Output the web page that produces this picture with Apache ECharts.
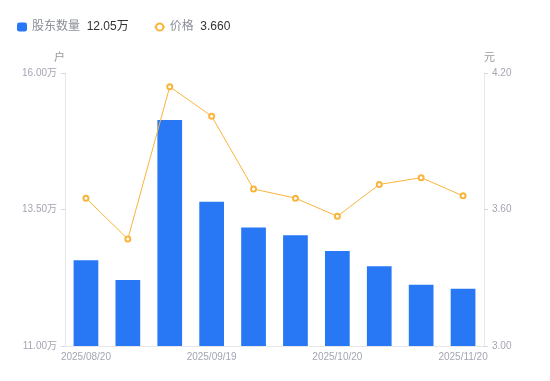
<!DOCTYPE html>
<html>
    <head>
        <meta charset="utf-8">
        <script src="https://cdn.jsdelivr.net/npm/echarts@6/dist/echarts.min.js"></script>
        <style>
            html, body { margin: 0; padding: 0; background: #fff; }
            #main { width: 550px; height: 381px; }
        </style>
    </head>
    <body>
        <div id="main"></div>
        <script>
            // report dates
            const dates = [
                '2025/08/20', '2025/08/31', '2025/09/10', '2025/09/19', '2025/09/30',
                '2025/10/10', '2025/10/20', '2025/10/31', '2025/11/10', '2025/11/20'
            ];
            // shareholder count, in 万 households
            const holders = [12.57, 12.21, 15.14, 13.64, 13.17, 13.03, 12.74, 12.46, 12.12, 12.05];
            // share price, yuan
            const prices = [3.65, 3.47, 4.14, 4.01, 3.69, 3.65, 3.57, 3.71, 3.74, 3.66];
            const holderTicks = [11, 13.5, 16];
            const priceTicks = [3.0, 3.6, 4.2];

            const font = '"Liberation Sans", "Noto Sans CJK SC", sans-serif';
            const labelColor = '#a3a6b1';
            const lineColor = '#e6e7eb';

            const lastHolder = holders[holders.length - 1].toFixed(2) + '万';
            const lastPrice = prices[prices.length - 1].toFixed(3);

            const chart = echarts.init(document.getElementById('main'));
            chart.setOption({
                animation: false,
                textStyle: { fontFamily: font },
                legend: {
                    left: 12,
                    top: 16,
                    itemWidth: 10,
                    itemHeight: 9,
                    itemGap: 25,
                    data: [
                        { name: '股东数量', icon: 'roundRect' },
                        { name: '价格' }
                    ],
                    formatter: function (name) {
                        const val = name === '股东数量' ? lastHolder : lastPrice;
                        return '{n|' + name + '}  {v|' + val + '}';
                    },
                    textStyle: {
                        fontFamily: font,
                        rich: {
                            n: { fontSize: 12, color: '#8b8e99', fontFamily: font },
                            v: { fontSize: 12, color: '#333', fontFamily: font }
                        }
                    }
                },
                grid: {
                    left: 65,
                    right: 66,
                    top: 73,
                    bottom: 35
                },
                xAxis: {
                    type: 'category',
                    data: dates,
                    axisLine: { lineStyle: { color: lineColor } },
                    axisTick: { show: false },
                    axisLabel: {
                        interval: 2,
                        color: labelColor,
                        fontSize: 10,
                        margin: 6,
                        fontFamily: font
                    }
                },
                yAxis: [{
                    type: 'value',
                    name: '户',
                    nameGap: 10,
                    nameTextStyle: { color: '#999', fontSize: 11, align: 'right', fontFamily: font },
                    min: 11,
                    max: 16,
                    splitLine: { show: false },
                    axisLine: { show: true, lineStyle: { color: lineColor } },
                    axisTick: {
                        show: true,
                        length: 4,
                        customValues: holderTicks,
                        lineStyle: { color: '#d5d7dc' }
                    },
                    axisLabel: {
                        customValues: holderTicks,
                        color: labelColor,
                        fontSize: 10,
                        margin: 8,
                        fontFamily: font,
                        formatter: (v) => v.toFixed(2) + '万'
                    }
                }, {
                    type: 'value',
                    name: '元',
                    nameGap: 10,
                    nameTextStyle: { color: '#999', fontSize: 11, align: 'left', fontFamily: font },
                    min: 3,
                    max: 4.2,
                    splitLine: { show: false },
                    axisLine: { show: true, lineStyle: { color: lineColor } },
                    axisTick: {
                        show: true,
                        length: 4,
                        customValues: priceTicks,
                        lineStyle: { color: '#d5d7dc' }
                    },
                    axisLabel: {
                        customValues: priceTicks,
                        color: labelColor,
                        fontSize: 10,
                        margin: 8,
                        fontFamily: font,
                        formatter: (v) => v.toFixed(2)
                    }
                }],
                series: [{
                    name: '股东数量',
                    type: 'bar',
                    yAxisIndex: 0,
                    barWidth: '59%',
                    itemStyle: { color: '#2878f5' },
                    data: holders
                }, {
                    name: '价格',
                    type: 'line',
                    yAxisIndex: 1,
                    symbol: 'emptyCircle',
                    symbolSize: 5,
                    lineStyle: { color: '#f9b43c', width: 1 },
                    itemStyle: { color: '#f9b43c', borderWidth: 2 },
                    data: prices
                }]
            });
        </script>
    </body>
</html>
